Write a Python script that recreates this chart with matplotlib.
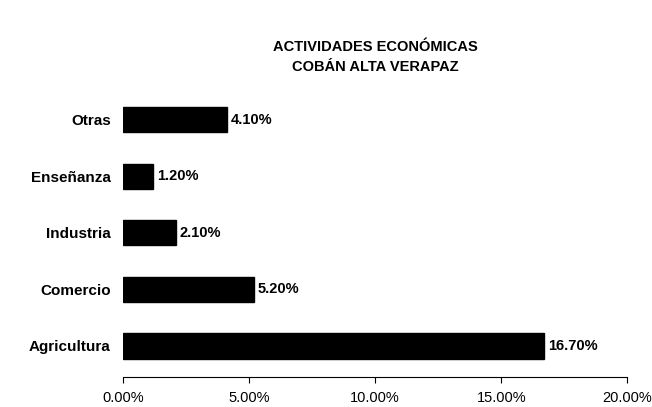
import matplotlib
matplotlib.use("Agg")
import matplotlib.pyplot as plt

categories = ["Agricultura", "Comercio", "Industria", "Enseñanza", "Otras"]
values = [16.70, 5.20, 2.10, 1.20, 4.10]
value_labels = ["16.70%", "5.20%", "2.10%", "1.20%", "4.10%"]
xticks = [0, 5, 10, 15, 20]
xtick_labels = ["0.00%", "5.00%", "10.00%", "15.00%", "20.00%"]
title = "ACTIVIDADES ECONÓMICAS\nCOBÁN ALTA VERAPAZ"

plt.rcParams['font.family'] = ['Liberation Sans', 'DejaVu Sans']

fig = plt.figure(figsize=(6.52, 4.07), dpi=100)
ax = fig.add_axes([0.189, 0.074, 0.773, 0.693])

y = list(range(len(categories)))
ax.barh(y, values, height=0.45, color="black", edgecolor="black")
for yi, v, lab in zip(y, values, value_labels):
    ax.text(v + 0.15, yi, lab, va="center", ha="left", fontsize=10.5, fontweight="bold")

ax.set_xlim(0, 20)
ax.set_ylim(-0.55, 4.44)
ax.set_yticks(y)
ax.set_yticklabels(categories, fontsize=11, fontweight="bold")
ax.tick_params(axis="y", length=0, pad=9)
ax.set_xticks(xticks)
ax.set_xticklabels(xtick_labels, fontsize=10.5)
ax.tick_params(axis="x", length=4, width=0.8, direction="out", pad=6)

for s in ["top", "right", "left"]:
    ax.spines[s].set_visible(False)
ax.spines["bottom"].set_linewidth(0.8)

fig.text(0.575, 0.86, title, ha="center", va="center", fontsize=10.5,
         fontweight="bold", linespacing=1.5)

fig.savefig("out.png", dpi=100, facecolor="white")
